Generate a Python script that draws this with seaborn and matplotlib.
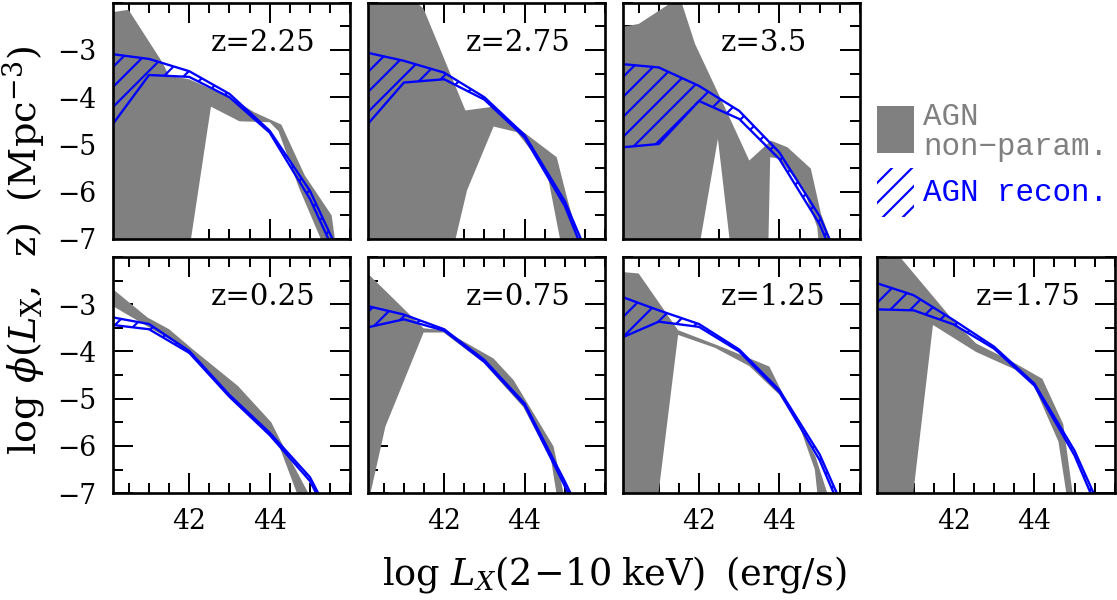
import numpy as np
import matplotlib
matplotlib.use("Agg")
import matplotlib.pyplot as plt
import seaborn as sns
from matplotlib.patches import Rectangle
from matplotlib.ticker import FixedLocator, MultipleLocator

# redshift bins: bottom row (0.25..1.75) then top row (2.25..3.5)
z_labels = ["0.25", "0.75", "1.25", "1.75", "2.25", "2.75", "3.5"]

# AGN recon. band, sampled on x_recon
x_recon = [40.1, 41.0, 42.0, 43.0, 44.0, 45.0, 46.0]
recon_hi_025 = [-3.28, -3.42, -3.99, -4.92, -5.72, -6.66, -8.3]
recon_lo_025 = [-3.44, -3.53, -4.03, -4.96, -5.77, -6.74, -8.4]
recon_hi_075 = [-3.04, -3.22, -3.53, -4.18, -5.10, -6.75, -8.5]
recon_lo_075 = [-3.49, -3.32, -3.56, -4.22, -5.14, -6.85, -8.6]
recon_hi_125 = [-2.85, -3.13, -3.42, -3.96, -4.82, -6.18, -8.1]
recon_lo_125 = [-3.70, -3.37, -3.48, -4.00, -4.86, -6.30, -8.3]
recon_hi_175 = [-2.56, -2.81, -3.34, -3.90, -4.68, -6.10, -8.0]
recon_lo_175 = [-3.11, -3.13, -3.43, -3.94, -4.72, -6.20, -8.2]
recon_hi_225 = [-3.09, -3.19, -3.45, -3.93, -4.71, -5.98, -7.8]
recon_lo_225 = [-4.57, -3.53, -3.57, -4.00, -4.75, -6.15, -8.0]
recon_hi_275 = [-3.06, -3.23, -3.48, -4.00, -4.80, -6.20, -8.2]
recon_lo_275 = [-4.57, -3.69, -3.62, -4.05, -4.85, -6.30, -8.4]
recon_hi_350 = [-3.30, -3.37, -3.76, -4.29, -5.17, -6.52, -8.5]
recon_lo_350 = [-5.06, -4.99, -4.08, -4.46, -5.31, -6.69, -8.7]

# AGN non-param. band: upper edge (x, y) and lower edge (x, y)
np_hix_025 = [40.1, 40.96, 41.5, 42.08, 43.21, 44.04, 44.33, 45.15]
np_hiy_025 = [-2.68, -3.28, -3.53, -3.95, -4.73, -5.5, -5.99, -7.3]
np_lox_025 = [40.1, 41.0, 42.0, 43.12, 44.2, 44.81]
np_loy_025 = [-3.04, -3.49, -3.99, -5.0, -5.92, -7.3]

np_hix_075 = [40.1, 41.49, 41.99, 42.57, 43.23, 43.73, 44.72, 44.97, 45.05]
np_hiy_075 = [-2.35, -3.51, -3.55, -3.83, -4.15, -4.61, -6.01, -7.0, -7.3]
np_lox_075 = [40.1, 40.17, 40.54, 41.49, 41.99, 42.98, 43.97, 44.66, 44.85]
np_loy_075 = [-7.3, -7.0, -5.59, -3.6, -3.6, -4.24, -5.18, -6.3, -7.3]

np_hix_125 = [40.1, 40.5, 41.48, 42.55, 43.75, 44.04, 44.9, 45.19, 45.25]
np_hiy_125 = [-2.32, -2.35, -3.55, -3.9, -4.32, -4.82, -6.23, -7.0, -7.3]
np_lox_125 = [40.1, 40.95, 41.48, 42.39, 43.25, 44.0, 44.5, 44.88, 44.98]
np_loy_125 = [-7.3, -7.3, -3.65, -3.92, -4.31, -4.92, -5.58, -6.5, -7.3]

np_hix_175 = [40.1, 40.56, 41.98, 42.55, 43.46, 44.2, 44.72, 45.0]
np_hiy_175 = [-1.9, -1.9, -3.34, -3.83, -4.22, -4.58, -5.54, -7.3]
np_lox_175 = [40.1, 40.95, 41.48, 42.55, 43.54, 43.95, 44.6, 44.85]
np_loy_175 = [-7.3, -7.3, -3.44, -4.01, -4.39, -4.65, -5.91, -7.3]

np_hix_225 = [40.1, 40.49, 41.33, 41.5, 42.0, 43.0, 43.62, 44.29, 44.87, 45.54, 45.67]
np_hiy_225 = [-2.2, -2.15, -3.26, -3.55, -3.62, -4.0, -4.32, -4.58, -5.65, -6.5, -7.3]
np_lox_225 = [40.1, 41.99, 42.54, 43.25, 44.0, 44.22, 44.72, 45.42]
np_loy_225 = [-7.3, -7.3, -4.2, -4.51, -4.53, -4.72, -5.9, -7.3]

np_hix_275 = [40.1, 41.2, 41.49, 41.95, 42.53, 43.23, 43.81, 44.8, 45.05, 45.44]
np_hiy_275 = [-1.9, -1.9, -2.13, -3.08, -4.28, -4.2, -4.63, -5.27, -6.11, -7.3]
np_lox_275 = [40.1, 42.2, 42.57, 43.23, 43.81, 44.55, 44.95]
np_loy_275 = [-7.3, -7.3, -5.97, -4.62, -4.74, -5.55, -7.3]

np_hix_350 = [40.1, 40.5, 41.4, 41.55, 41.9, 42.64, 43.25, 43.79, 44.2, 44.78, 45.03, 45.4]
np_hiy_350 = [-2.51, -2.45, -1.95, -1.95, -2.87, -4.21, -5.34, -4.92, -5.06, -5.51, -6.46, -7.3]
np_lox_350 = [40.1, 41.98, 42.47, 42.8, 43.72, 43.77, 44.0, 44.61, 44.94, 45.0]
np_loy_350 = [-7.3, -7.3, -4.88, -7.3, -7.3, -5.27, -5.30, -5.97, -6.75, -7.3]

recon_hi = [recon_hi_025, recon_hi_075, recon_hi_125, recon_hi_175,
            recon_hi_225, recon_hi_275, recon_hi_350]
recon_lo = [recon_lo_025, recon_lo_075, recon_lo_125, recon_lo_175,
            recon_lo_225, recon_lo_275, recon_lo_350]
np_hix = [np_hix_025, np_hix_075, np_hix_125, np_hix_175, np_hix_225, np_hix_275, np_hix_350]
np_hiy = [np_hiy_025, np_hiy_075, np_hiy_125, np_hiy_175, np_hiy_225, np_hiy_275, np_hiy_350]
np_lox = [np_lox_025, np_lox_075, np_lox_125, np_lox_175, np_lox_225, np_lox_275, np_lox_350]
np_loy = [np_loy_025, np_loy_075, np_loy_125, np_loy_175, np_loy_225, np_loy_275, np_loy_350]

# panel slots (row, col)
slots = [(1, 0), (1, 1), (1, 2), (1, 3), (0, 0), (0, 1), (0, 2)]

GREY = "#808080"
BLUE = "#0000ff"

sns.set_theme(style="ticks")
plt.rcParams["font.family"] = ["DejaVu Serif"]
plt.rcParams["mathtext.fontset"] = "dejavuserif"
plt.rcParams["hatch.color"] = BLUE
plt.rcParams["hatch.linewidth"] = 1.3
plt.rcParams["axes.linewidth"] = 1.6
plt.rcParams["axes.edgecolor"] = "black"
plt.rcParams["text.color"] = "black"
plt.rcParams["xtick.color"] = "black"
plt.rcParams["ytick.color"] = "black"
plt.rcParams["xtick.labelcolor"] = "black"
plt.rcParams["ytick.labelcolor"] = "black"

fig, axes = plt.subplots(2, 4, figsize=(1117 / 120, 600 / 120), dpi=120)
fig.subplots_adjust(left=0.101, right=0.998, top=0.9955, bottom=0.178,
                    wspace=0.074, hspace=0.076)

for i, (r, c) in enumerate(slots):
    ax = axes[r, c]
    hx, hy = np.array(np_hix[i]), np.array(np_hiy[i])
    lx, ly = np.array(np_lox[i]), np.array(np_loy[i])
    ax.fill(np.r_[hx, lx[::-1]], np.r_[hy, ly[::-1]], color=GREY, lw=0)

    ax.fill_between(x_recon, recon_lo[i], recon_hi[i], facecolor="none",
                    edgecolor=BLUE, hatch="//", lw=0)
    sns.lineplot(x=x_recon, y=recon_hi[i], ax=ax, color=BLUE, lw=1.4)
    sns.lineplot(x=x_recon, y=recon_lo[i], ax=ax, color=BLUE, lw=1.4)

    ax.set_xlim(40.1, 46.0)
    ax.set_ylim(-7, -2)
    ax.xaxis.set_major_locator(FixedLocator([42, 44]))
    ax.xaxis.set_minor_locator(MultipleLocator(0.5))
    ax.yaxis.set_major_locator(FixedLocator([-7, -6, -5, -4, -3]))
    ax.yaxis.set_minor_locator(MultipleLocator(0.5))
    ax.tick_params(which="both", direction="in", top=True, right=True,
                   width=1.2, labelsize=16)
    ax.tick_params(which="major", length=12)
    ax.tick_params(which="minor", length=6)
    ax.tick_params(axis="y", pad=10)
    ax.tick_params(axis="x", pad=9)
    ax.set_yticklabels(["\u22127", "\u22126", "\u22125", "\u22124", "\u22123"])
    if c != 0:
        ax.tick_params(axis="y", labelleft=False)
    if r == 0:
        ax.tick_params(axis="x", labelbottom=False)
    ax.set_xlabel("")
    ax.set_ylabel("")
    ax.text(0.415, 0.83, "z=" + z_labels[i], transform=ax.transAxes,
            ha="left", va="center", fontsize=17.5)

# legend panel
lg = axes[0, 3]
lg.axis("off")
lg.set_xlim(0, 1)
lg.set_ylim(0, 1)
lg.add_patch(Rectangle((0.0, 0.365), 0.154, 0.198, facecolor=GREY, lw=0))
lg.add_patch(Rectangle((0.0, 0.094), 0.154, 0.207, facecolor="none",
                       edgecolor=BLUE, hatch="//", lw=0))
lg.text(0.192, 0.517, "AGN", color=GREY, fontsize=18.5, family="Liberation Mono",
        va="center", ha="left")
lg.text(0.192, 0.39, "non\u2212param.", color=GREY, fontsize=18.5,
        family="Liberation Mono", va="center", ha="left")
lg.text(0.192, 0.196, "AGN recon.", color=BLUE, fontsize=18.5,
        family="Liberation Mono", va="center", ha="left")

fig.text(0.022, 0.583,
         r"$\log\,\phi(L_{\rm X},\;\;{\rm z})\;\;({\rm Mpc}^{-3})$",
         rotation=90, ha="center", va="center", fontsize=23)
fig.text(0.5497, 0.042,
         r"$\log\,L_X(2\!-\!10\;{\rm keV})\;\;({\rm erg/s})$",
         ha="center", va="center", fontsize=22)

fig.savefig("out.png", dpi=120)
